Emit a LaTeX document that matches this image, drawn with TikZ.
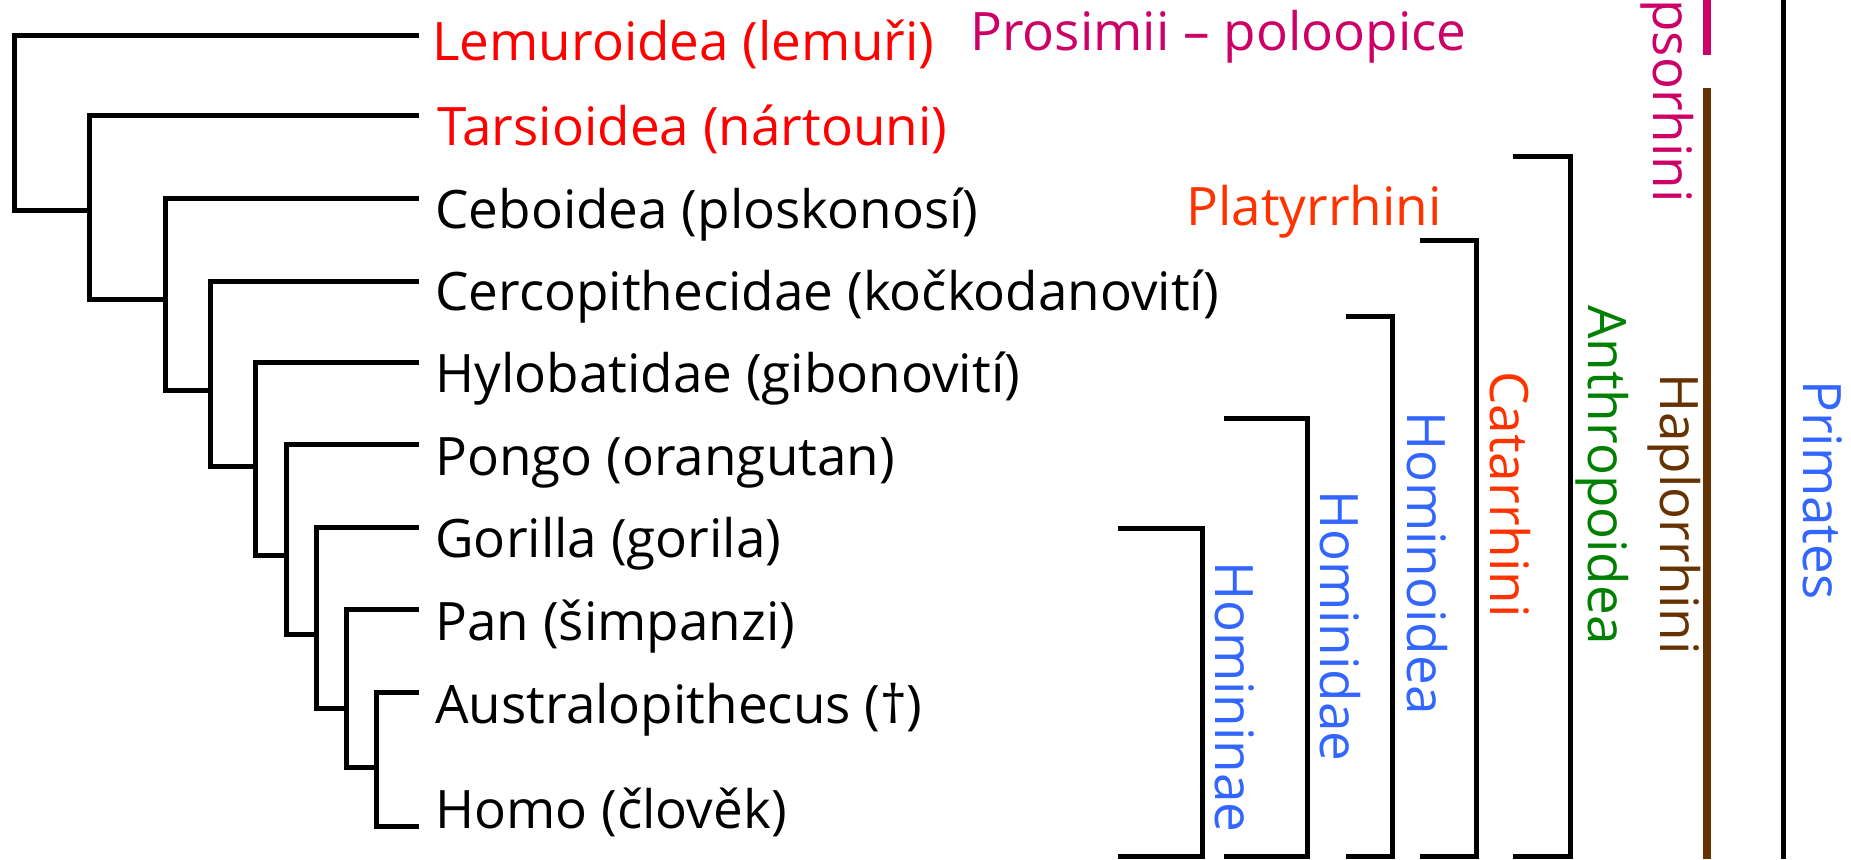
\documentclass[tikz,border=0pt]{standalone}
\usepackage{fontspec}
\setmainfont{Open Sans}
\usepackage{tikz}
\usetikzlibrary{positioning}
\definecolor{lemred}{RGB}{255,0,0}
\definecolor{prosmag}{RGB}{204,0,102}
\definecolor{catorange}{RGB}{255,51,0}
\definecolor{anthgreen}{RGB}{0,128,0}
\definecolor{hominblue}{RGB}{51,102,255}
\definecolor{haplbrown}{RGB}{102,51,0}
\tikzset{
  branch/.style={line width=2.5pt, color=black},
  cladebar/.style={line width=2.5pt, color=black},
  colorbar/.style={line width=3.8pt},
  taxon/.style={anchor=base west, inner sep=0pt,
    font=\fontsize{26.5}{32}\selectfont},
  rank/.style={rotate=-90, anchor=base east, inner sep=0pt,
    font=\fontsize{26.5}{32}\selectfont}
}

\begin{document}
\begin{tikzpicture}[x=0.5pt, y=-0.5pt]
  \clip (0,0) rectangle (1851,859);

  % leaf tips
  \coordinate (lem) at (419,35);
  \coordinate (tar) at (419,115);
  \coordinate (ceb) at (419,198);
  \coordinate (cer) at (419,281);
  \coordinate (hyl) at (419,362);
  \coordinate (pon) at (419,444);
  \coordinate (gor) at (419,527);
  \coordinate (pan) at (419,609);
  \coordinate (aus) at (419,692);
  \coordinate (hom) at (419,826);
  % inner nodes
  \coordinate (nA) at (14,120);
  \coordinate (nB) at (89,210);
  \coordinate (nC) at (165,299);
  \coordinate (nD) at (210,390);
  \coordinate (nE) at (255,466);
  \coordinate (nF) at (286,555);
  \coordinate (nG) at (316,634);
  \coordinate (nH) at (346,708);
  \coordinate (nI) at (376,767);

  \foreach \tip/\from/\to in {lem/nA/nB, tar/nB/nC, ceb/nC/nD, cer/nD/nE,
      hyl/nE/nF, pon/nF/nG, gor/nG/nH, pan/nH/nI, aus/nI/hom}
    \draw[branch] (\tip) -| (\from) |- (\to);

  % taxa
  \node[taxon, lemred] (lemt) at (432,60) {Lemuroidea (lemuři)};
  \node[taxon, lemred] (tart) at (437,145) {Tarsioidea (nártouni)};
  \node[taxon] (cebt) at (435,228) {Ceboidea (ploskonosí)};
  \node[taxon] (cert) at (435,310) {Cercopithecidae (kočkodanovití)};
  \node[taxon] (hylt) at (435,392) {Hylobatidae (gibonovití)};
  \node[taxon] (pont) at (435,475) {Pongo (orangutan)};
  \node[taxon] (gort) at (435,557) {Gorilla (gorila)};
  \node[taxon] (pant) at (435,640) {Pan (šimpanzi)};
  \node[taxon] (aust) at (435,723) {Australopithecus (†)};
  \node[taxon] (homt) at (435,828) {Homo (člověk)};

  \node[taxon, prosmag] (prosimii) at (970,50) {Prosimii – poloopice};
  \node[taxon, catorange] (platyr) at (1186,225) {Platyrrhini};

  % clade brackets
  \foreach \xa/\xb/\yt in {1118/1202/528, 1224/1307/418, 1346/1392/316,
      1420/1476/240, 1513/1570/156}
    \draw[cladebar] (\xa,\yt) -| (\xb,856) -- (\xa,856);

  \node[rank, hominblue] (homininae) at (1215,833) {Homininae};
  \node[rank, hominblue] (hominidae) at (1320,762) {Hominidae};
  \node[rank, hominblue] (hominoidea) at (1407,715) {Hominoidea};
  \node[rank, catorange] (catarr) at (1490,618) {Catarrhini};
  \node[rank, anthgreen] (anthrop) at (1588,645) {Anthropoidea};

  % suborders
  \draw[colorbar, prosmag] (1707,0) -- (1707,55);
  \draw[colorbar, haplbrown] (1707,88) -- (1707,859);
  \node[rank, prosmag] (strep) at (1653,203) {Strepsorhini};
  \node[rank, haplbrown] (haplor) at (1660,655) {Haplorrhini};

  \draw[line width=2.5pt] (1783,0) -- (1783,859);
  \node[rank, hominblue] (primates) at (1803,600) {Primates};
\end{tikzpicture}
\end{document}
